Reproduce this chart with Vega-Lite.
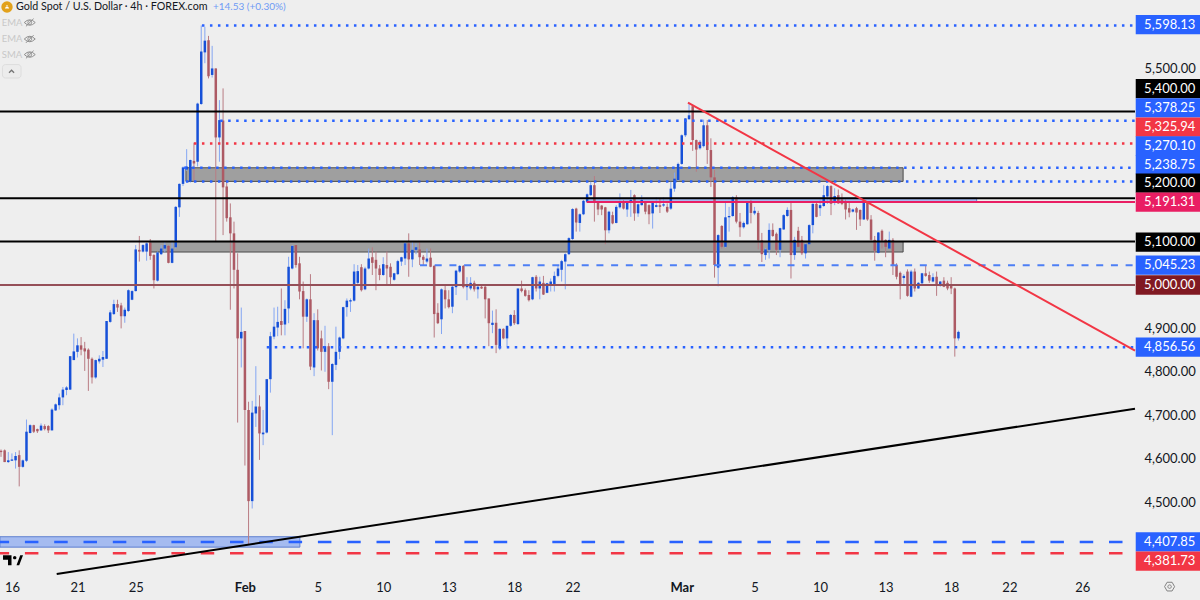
{"$schema":"https://vega.github.io/schema/vega-lite/v6.json","width":1135,"height":574,"autosize":"none","padding":{"left":0,"top":0,"right":65,"bottom":26},"background":"#eeeeee","config":{"font":"Lato","view":{"stroke":null}},"resolve":{"axis":{"x":"independent","y":"independent"}},
"datasets":{"tags":[
{"label":"5,598.13","tone":"blue","mid":5600.2,"top":5622.4,"bot":5578},
{"label":"5,400.00","tone":"black","mid":5452.3,"top":5474.5,"bot":5430.1},
{"label":"5,378.25","tone":"blue","mid":5408.3,"top":5430.5,"bot":5386.1},
{"label":"5,325.94","tone":"red","mid":5364,"top":5386.2,"bot":5341.8},
{"label":"5,270.10","tone":"blue","mid":5320.3,"top":5342.5,"bot":5298.1},
{"label":"5,238.75","tone":"blue","mid":5277.6,"top":5299.8,"bot":5255.4},
{"label":"5,200.00","tone":"black","mid":5235,"top":5257.2,"bot":5212.8},
{"label":"5,191.31","tone":"pink","mid":5191.2,"top":5213.4,"bot":5169},
{"label":"5,100.00","tone":"black","mid":5099,"top":5121.2,"bot":5076.8},
{"label":"5,045.23","tone":"blue","mid":5046,"top":5068.2,"bot":5023.8},
{"label":"5,000.00","tone":"maroon","mid":5000,"top":5022.2,"bot":4977.8},
{"label":"4,856.56","tone":"blue","mid":4857,"top":4879.2,"bot":4834.8},
{"label":"4,407.85","tone":"blue","mid":4408,"top":4430.2,"bot":4385.8},
{"label":"4,381.73","tone":"red","mid":4364,"top":4386.2,"bot":4341.8}
],"candles":[
{"b":0,"o":4618,"h":4621,"l":4604,"c":4615},{"b":1,"o":4619,"h":4621,"l":4592,"c":4592},{"b":2,"o":4592,"h":4615,"l":4590,"c":4596},{"b":3,"o":4595,"h":4612,"l":4595,"c":4598},{"b":4,"o":4596,"h":4615,"l":4577,"c":4606},{"b":5,"o":4608,"h":4619,"l":4536,"c":4581},{"b":6,"o":4581,"h":4598,"l":4579,"c":4596},{"b":7,"o":4595,"h":4690,"l":4592,"c":4662},{"b":8,"o":4659,"h":4679,"l":4658,"c":4677},{"b":9,"o":4677,"h":4678,"l":4659,"c":4662},
{"b":10,"o":4668,"h":4669,"l":4659,"c":4663},{"b":11,"o":4665,"h":4681,"l":4664,"c":4676},{"b":12,"o":4675,"h":4679,"l":4665,"c":4668},{"b":13,"o":4675,"h":4677,"l":4659,"c":4665},{"b":14,"o":4665,"h":4716,"l":4665,"c":4713},{"b":15,"o":4711,"h":4727,"l":4710,"c":4725},{"b":16,"o":4723,"h":4750,"l":4713,"c":4741},{"b":17,"o":4741,"h":4765,"l":4723,"c":4759},{"b":18,"o":4758,"h":4767,"l":4746,"c":4764},{"b":19,"o":4759,"h":4836,"l":4758,"c":4836},
{"b":20,"o":4827,"h":4888,"l":4827,"c":4847},{"b":21,"o":4846,"h":4877,"l":4833,"c":4861},{"b":22,"o":4861,"h":4880,"l":4838,"c":4851},{"b":23,"o":4854,"h":4869,"l":4802,"c":4847},{"b":24,"o":4851,"h":4854,"l":4756,"c":4830},{"b":25,"o":4830,"h":4833,"l":4773,"c":4787},{"b":26,"o":4787,"h":4828,"l":4784,"c":4827},{"b":27,"o":4824,"h":4838,"l":4819,"c":4830},{"b":28,"o":4828,"h":4848,"l":4811,"c":4834},{"b":29,"o":4830,"h":4917,"l":4830,"c":4917},
{"b":30,"o":4915,"h":4942,"l":4913,"c":4937},{"b":31,"o":4933,"h":4966,"l":4931,"c":4956},{"b":32,"o":4956,"h":4966,"l":4938,"c":4948},{"b":33,"o":4953,"h":4959,"l":4900,"c":4928},{"b":34,"o":4928,"h":4948,"l":4913,"c":4943},{"b":35,"o":4940,"h":4990,"l":4938,"c":4988},{"b":36,"o":4966,"h":4988,"l":4965,"c":4986},{"b":37,"o":4986,"h":5092,"l":4985,"c":5082},{"b":38,"o":5081,"h":5113,"l":5054,"c":5077},{"b":39,"o":5077,"h":5094,"l":5075,"c":5092},
{"b":40,"o":5077,"h":5098,"l":5056,"c":5096},{"b":41,"o":5098,"h":5106,"l":5058,"c":5067},{"b":42,"o":5069,"h":5071,"l":4992,"c":5011},{"b":43,"o":5010,"h":5077,"l":5008,"c":5075},{"b":44,"o":5071,"h":5092,"l":5069,"c":5084},{"b":45,"o":5084,"h":5100,"l":5075,"c":5092},{"b":46,"o":5090,"h":5092,"l":5050,"c":5051},{"b":47,"o":5051,"h":5102,"l":5050,"c":5084},{"b":48,"o":5087,"h":5182,"l":5084,"c":5180},{"b":49,"o":5179,"h":5234,"l":5157,"c":5233},
{"b":50,"o":5233,"h":5273,"l":5228,"c":5271},{"b":51,"o":5266,"h":5313,"l":5263,"c":5273},{"b":52,"o":5238,"h":5289,"l":5236,"c":5288},{"b":53,"o":5286,"h":5328,"l":5238,"c":5280},{"b":54,"o":5284,"h":5420,"l":5273,"c":5418},{"b":55,"o":5417,"h":5598,"l":5415,"c":5538},{"b":56,"o":5536,"h":5595,"l":5511,"c":5563},{"b":57,"o":5564,"h":5574,"l":5476,"c":5481},{"b":58,"o":5484,"h":5551,"l":5478,"c":5499},{"b":59,"o":5499,"h":5499,"l":5100,"c":5340},
{"b":60,"o":5340,"h":5426,"l":5284,"c":5380},{"b":61,"o":5379,"h":5453,"l":5115,"c":5225},{"b":62,"o":5227,"h":5242,"l":5146,"c":5154},{"b":63,"o":5156,"h":5188,"l":4943,"c":5119},{"b":64,"o":5119,"h":5146,"l":4992,"c":5035},{"b":65,"o":5035,"h":5073,"l":4683,"c":4877},{"b":66,"o":4877,"h":4948,"l":4810,"c":4892},{"b":67,"o":4894,"h":4894,"l":4584,"c":4712},{"b":68,"o":4712,"h":4731,"l":4403,"c":4502},{"b":69,"o":4502,"h":4733,"l":4485,"c":4706},
{"b":70,"o":4704,"h":4813,"l":4673,"c":4720},{"b":71,"o":4720,"h":4746,"l":4597,"c":4658},{"b":72,"o":4656,"h":4712,"l":4631,"c":4660},{"b":73,"o":4660,"h":4783,"l":4658,"c":4783},{"b":74,"o":4783,"h":4892,"l":4752,"c":4882},{"b":75,"o":4881,"h":4948,"l":4875,"c":4904},{"b":76,"o":4902,"h":4950,"l":4882,"c":4915},{"b":77,"o":4917,"h":4992,"l":4884,"c":4908},{"b":78,"o":4909,"h":4965,"l":4884,"c":4945},{"b":79,"o":4946,"h":5065,"l":4912,"c":5042},
{"b":80,"o":5038,"h":5092,"l":5036,"c":5090},{"b":81,"o":5092,"h":5092,"l":5040,"c":5046},{"b":82,"o":5050,"h":5065,"l":4967,"c":4985},{"b":83,"o":4986,"h":5008,"l":4854,"c":4927},{"b":84,"o":4927,"h":4969,"l":4915,"c":4967},{"b":85,"o":4967,"h":5025,"l":4804,"c":4812},{"b":86,"o":4810,"h":4935,"l":4790,"c":4919},{"b":87,"o":4919,"h":4944,"l":4849,"c":4854},{"b":88,"o":4877,"h":4895,"l":4803,"c":4846},{"b":89,"o":4846,"h":4906,"l":4800,"c":4859},
{"b":90,"o":4859,"h":4866,"l":4760,"c":4777},{"b":91,"o":4777,"h":4820,"l":4654,"c":4818},{"b":92,"o":4816,"h":4904,"l":4804,"c":4846},{"b":93,"o":4846,"h":4881,"l":4829,"c":4879},{"b":94,"o":4877,"h":4950,"l":4875,"c":4949},{"b":95,"o":4949,"h":4969,"l":4927,"c":4964},{"b":96,"o":4962,"h":4969,"l":4938,"c":4965},{"b":97,"o":4964,"h":5048,"l":4962,"c":5031},{"b":98,"o":5005,"h":5046,"l":5000,"c":5032},{"b":99,"o":5041,"h":5048,"l":4985,"c":4988},
{"b":100,"o":4990,"h":5042,"l":4988,"c":5038},{"b":101,"o":5038,"h":5084,"l":5036,"c":5061},{"b":102,"o":5064,"h":5087,"l":5023,"c":5051},{"b":103,"o":5058,"h":5077,"l":4988,"c":5038},{"b":104,"o":5038,"h":5046,"l":5011,"c":5023},{"b":105,"o":5023,"h":5064,"l":5021,"c":5048},{"b":106,"o":5046,"h":5077,"l":5000,"c":5038},{"b":107,"o":5042,"h":5050,"l":5000,"c":5018},{"b":108,"o":5012,"h":5028,"l":5010,"c":5027},{"b":109,"o":5025,"h":5058,"l":5023,"c":5055},
{"b":110,"o":5054,"h":5065,"l":5044,"c":5064},{"b":111,"o":5061,"h":5100,"l":5046,"c":5096},{"b":112,"o":5096,"h":5119,"l":5019,"c":5059},{"b":113,"o":5059,"h":5100,"l":5041,"c":5081},{"b":114,"o":5081,"h":5096,"l":5071,"c":5087},{"b":115,"o":5082,"h":5100,"l":5046,"c":5064},{"b":116,"o":5065,"h":5069,"l":5046,"c":5058},{"b":117,"o":5054,"h":5084,"l":5050,"c":5061},{"b":118,"o":5063,"h":5084,"l":5041,"c":5042},{"b":119,"o":5044,"h":5046,"l":4879,"c":4933},
{"b":120,"o":4936,"h":4958,"l":4910,"c":4912},{"b":121,"o":4921,"h":4992,"l":4887,"c":4990},{"b":122,"o":4988,"h":5002,"l":4946,"c":4967},{"b":123,"o":4967,"h":4988,"l":4946,"c":4949},{"b":124,"o":4950,"h":5000,"l":4935,"c":4996},{"b":125,"o":4995,"h":5035,"l":4977,"c":5033},{"b":126,"o":5031,"h":5046,"l":5028,"c":5044},{"b":127,"o":5044,"h":5046,"l":4992,"c":4995},{"b":128,"o":4995,"h":5018,"l":4965,"c":5000},{"b":129,"o":4992,"h":5018,"l":4988,"c":5005},
{"b":130,"o":5005,"h":5010,"l":4985,"c":4990},{"b":131,"o":4990,"h":4998,"l":4969,"c":4996},{"b":132,"o":4996,"h":4998,"l":4991,"c":4992},{"b":133,"o":4996,"h":4998,"l":4923,"c":4967},{"b":134,"o":4969,"h":4969,"l":4859,"c":4912},{"b":135,"o":4908,"h":4941,"l":4889,"c":4913},{"b":136,"o":4913,"h":4944,"l":4843,"c":4862},{"b":137,"o":4854,"h":4900,"l":4850,"c":4899},{"b":138,"o":4899,"h":4900,"l":4875,"c":4877},{"b":139,"o":4877,"h":4906,"l":4858,"c":4906},
{"b":140,"o":4906,"h":4933,"l":4904,"c":4931},{"b":141,"o":4931,"h":4942,"l":4908,"c":4912},{"b":142,"o":4910,"h":4992,"l":4908,"c":4992},{"b":143,"o":4992,"h":5010,"l":4983,"c":4986},{"b":144,"o":4988,"h":4992,"l":4973,"c":4975},{"b":145,"o":4977,"h":4988,"l":4962,"c":4965},{"b":146,"o":4967,"h":5019,"l":4965,"c":5018},{"b":147,"o":5019,"h":5023,"l":4985,"c":4992},{"b":148,"o":4992,"h":5019,"l":4967,"c":5008},{"b":149,"o":5005,"h":5021,"l":4977,"c":4978},
{"b":150,"o":4982,"h":5005,"l":4981,"c":5004},{"b":151,"o":5000,"h":5015,"l":4985,"c":5008},{"b":152,"o":4998,"h":5031,"l":4985,"c":5021},{"b":153,"o":5021,"h":5044,"l":5018,"c":5038},{"b":154,"o":5035,"h":5058,"l":5008,"c":5055},{"b":155,"o":5054,"h":5073,"l":4990,"c":5071},{"b":156,"o":5071,"h":5110,"l":5069,"c":5108},{"b":157,"o":5106,"h":5177,"l":5104,"c":5175},{"b":158,"o":5176,"h":5178,"l":5123,"c":5144},{"b":159,"o":5143,"h":5165,"l":5123,"c":5163},
{"b":160,"o":5163,"h":5196,"l":5161,"c":5194},{"b":161,"o":5192,"h":5211,"l":5189,"c":5209},{"b":162,"o":5207,"h":5238,"l":5205,"c":5230},{"b":163,"o":5230,"h":5251,"l":5146,"c":5192},{"b":164,"o":5192,"h":5193,"l":5161,"c":5174},{"b":165,"o":5183,"h":5184,"l":5161,"c":5174},{"b":166,"o":5179,"h":5180,"l":5094,"c":5126},{"b":167,"o":5126,"h":5171,"l":5119,"c":5169},{"b":168,"o":5161,"h":5169,"l":5140,"c":5142},{"b":169,"o":5143,"h":5184,"l":5142,"c":5180},
{"b":170,"o":5179,"h":5211,"l":5176,"c":5192},{"b":171,"o":5192,"h":5196,"l":5174,"c":5176},{"b":172,"o":5174,"h":5194,"l":5157,"c":5192},{"b":173,"o":5189,"h":5219,"l":5157,"c":5196},{"b":174,"o":5207,"h":5209,"l":5148,"c":5165},{"b":175,"o":5165,"h":5188,"l":5157,"c":5186},{"b":176,"o":5184,"h":5207,"l":5183,"c":5196},{"b":177,"o":5192,"h":5193,"l":5163,"c":5169},{"b":178,"o":5184,"h":5186,"l":5140,"c":5163},{"b":179,"o":5165,"h":5192,"l":5130,"c":5190},
{"b":180,"o":5180,"h":5202,"l":5179,"c":5184},{"b":181,"o":5184,"h":5199,"l":5166,"c":5180},{"b":182,"o":5183,"h":5202,"l":5180,"c":5186},{"b":183,"o":5180,"h":5188,"l":5166,"c":5169},{"b":184,"o":5176,"h":5238,"l":5173,"c":5222},{"b":185,"o":5222,"h":5259,"l":5215,"c":5245},{"b":186,"o":5242,"h":5282,"l":5240,"c":5279},{"b":187,"o":5279,"h":5347,"l":5277,"c":5345},{"b":188,"o":5345,"h":5384,"l":5341,"c":5384},{"b":189,"o":5382,"h":5420,"l":5381,"c":5391},
{"b":190,"o":5412,"h":5414,"l":5309,"c":5334},{"b":191,"o":5334,"h":5335,"l":5261,"c":5312},{"b":192,"o":5315,"h":5334,"l":5312,"c":5330},{"b":193,"o":5320,"h":5381,"l":5317,"c":5368},{"b":194,"o":5368,"h":5380,"l":5279,"c":5311},{"b":195,"o":5311,"h":5338,"l":5226,"c":5248},{"b":196,"o":5248,"h":5265,"l":5017,"c":5046},{"b":197,"o":5040,"h":5117,"l":4997,"c":5115},{"b":198,"o":5136,"h":5138,"l":5084,"c":5088},{"b":199,"o":5088,"h":5189,"l":5086,"c":5156},
{"b":200,"o":5156,"h":5180,"l":5123,"c":5159},{"b":201,"o":5159,"h":5205,"l":5157,"c":5202},{"b":202,"o":5202,"h":5207,"l":5142,"c":5146},{"b":203,"o":5146,"h":5166,"l":5111,"c":5133},{"b":204,"o":5133,"h":5146,"l":5130,"c":5143},{"b":205,"o":5140,"h":5192,"l":5139,"c":5190},{"b":206,"o":5192,"h":5196,"l":5142,"c":5166},{"b":207,"o":5165,"h":5180,"l":5161,"c":5171},{"b":208,"o":5166,"h":5171,"l":5082,"c":5103},{"b":209,"o":5103,"h":5120,"l":5053,"c":5071},
{"b":210,"o":5069,"h":5085,"l":5058,"c":5082},{"b":211,"o":5081,"h":5142,"l":5061,"c":5127},{"b":212,"o":5127,"h":5142,"l":5111,"c":5113},{"b":213,"o":5118,"h":5121,"l":5069,"c":5081},{"b":214,"o":5081,"h":5132,"l":5064,"c":5131},{"b":215,"o":5128,"h":5163,"l":5127,"c":5161},{"b":216,"o":5159,"h":5179,"l":5157,"c":5173},{"b":217,"o":5173,"h":5192,"l":5015,"c":5069},{"b":218,"o":5069,"h":5111,"l":5058,"c":5104},{"b":219,"o":5125,"h":5134,"l":5087,"c":5088},
{"b":220,"o":5104,"h":5113,"l":5069,"c":5073},{"b":221,"o":5073,"h":5096,"l":5061,"c":5094},{"b":222,"o":5094,"h":5140,"l":5093,"c":5138},{"b":223,"o":5138,"h":5188,"l":5119,"c":5187},{"b":224,"o":5187,"h":5190,"l":5156,"c":5157},{"b":225,"o":5177,"h":5197,"l":5159,"c":5184},{"b":226,"o":5182,"h":5230,"l":5180,"c":5207},{"b":227,"o":5204,"h":5230,"l":5187,"c":5228},{"b":228,"o":5228,"h":5230,"l":5161,"c":5187},{"b":229,"o":5192,"h":5223,"l":5184,"c":5205},
{"b":230,"o":5207,"h":5220,"l":5187,"c":5188},{"b":231,"o":5197,"h":5211,"l":5184,"c":5187},{"b":232,"o":5192,"h":5197,"l":5151,"c":5174},{"b":233,"o":5177,"h":5192,"l":5156,"c":5167},{"b":234,"o":5169,"h":5176,"l":5167,"c":5174},{"b":235,"o":5177,"h":5180,"l":5127,"c":5167},{"b":236,"o":5173,"h":5174,"l":5136,"c":5151},{"b":237,"o":5151,"h":5192,"l":5150,"c":5190},{"b":238,"o":5190,"h":5192,"l":5148,"c":5151},{"b":239,"o":5151,"h":5161,"l":5102,"c":5104},
{"b":240,"o":5104,"h":5113,"l":5056,"c":5079},{"b":241,"o":5074,"h":5122,"l":5073,"c":5121},{"b":242,"o":5125,"h":5128,"l":5084,"c":5102},{"b":243,"o":5104,"h":5105,"l":5064,"c":5088},{"b":244,"o":5084,"h":5123,"l":5083,"c":5104},{"b":245,"o":5104,"h":5108,"l":5023,"c":5044},{"b":246,"o":5046,"h":5050,"l":5013,"c":5019},{"b":247,"o":5028,"h":5031,"l":4967,"c":5000},{"b":248,"o":5016,"h":5025,"l":5000,"c":5021},{"b":249,"o":5031,"h":5036,"l":4973,"c":4975},
{"b":250,"o":4973,"h":5035,"l":4972,"c":5031},{"b":251,"o":5031,"h":5038,"l":4985,"c":4992},{"b":252,"o":4992,"h":5007,"l":4991,"c":5005},{"b":253,"o":5004,"h":5028,"l":4998,"c":5027},{"b":254,"o":5027,"h":5044,"l":5019,"c":5021},{"b":255,"o":5023,"h":5031,"l":5005,"c":5010},{"b":256,"o":5008,"h":5027,"l":5006,"c":5018},{"b":257,"o":5019,"h":5031,"l":4975,"c":4998},{"b":258,"o":4998,"h":5009,"l":4996,"c":5008},{"b":259,"o":5010,"h":5018,"l":4995,"c":4996},
{"b":260,"o":5005,"h":5010,"l":4988,"c":4992},{"b":261,"o":5000,"h":5018,"l":4979,"c":4992},{"b":262,"o":4992,"h":4994,"l":4835,"c":4877},{"b":263,"o":4877,"h":4895,"l":4872,"c":4892}
]},
"layer":[
{"data":{"values":[{"b":50.8,"b2":247.8,"hi":5270.1,"lo":5238.75},{"b":41,"b2":247.8,"hi":5100,"lo":5076}]},"mark":{"type":"rect","fill":"#9f9f9f","stroke":"#4a4a4a","strokeWidth":1},
"encoding":{"x":{"field":"b","type":"quantitative","scale":{"domain":[-0.275,311.5],"nice":false,"zero":false},"axis":{"title":null,"orient":"bottom","values":[3,21,37,67,87,105,123,141,157,187,207,225,243,261,277,297],"labelExpr":"({'3':'16','21':'21','37':'25','67':'Feb','87':'5','105':'10','123':'13','141':'18','157':'22','187':'Mar','207':'5','225':'10','243':'13','261':'18','277':'22','297':'26'})[''+datum.value]","labelFontWeight":{"condition":{"test":"datum.value==67||datum.value==187","value":"bold"},"value":"normal"},"labelFontSize":13,"labelColor":"#131722","ticks":false,"domain":false,"grid":false,"labelPadding":7,"labelFlush":false,"labelOverlap":false}},"x2":{"field":"b2"},
"y":{"field":"hi","type":"quantitative","scale":{"domain":[4334.1,5656.7],"nice":false,"zero":false},"axis":{"title":null,"orient":"right","values":[4500,4600,4700,4800,4900,5500],"format":",.2f","labelFontSize":13,"labelColor":"#131722","ticks":false,"domain":false,"grid":false,"labelPadding":9,"labelAlign":"left","labelOverlap":false}},"y2":{"field":"lo"}}},
{"data":{"values":[{"b":160.9,"b2":268,"hi":5200,"lo":5191.3},{"b":-0.3,"b2":82.1,"hi":4420,"lo":4396}]},"mark":{"type":"rect","fill":"#a5bbf0","stroke":"#5f7fd0","strokeWidth":1},
"encoding":{"x":{"field":"b","type":"quantitative","scale":{"domain":[-0.275,311.5],"nice":false,"zero":false},"axis":null},"x2":{"field":"b2"},"y":{"field":"hi","type":"quantitative","scale":{"domain":[4334.1,5656.7],"nice":false,"zero":false},"axis":null},"y2":{"field":"lo"}}},
{"data":{"name":"candles"},"mark":{"type":"rule","strokeWidth":1},
"encoding":{"x":{"field":"b","type":"quantitative","scale":{"domain":[-0.275,311.5],"nice":false,"zero":false},"axis":null},"y":{"field":"h","type":"quantitative","scale":{"domain":[4334.1,5656.7],"nice":false,"zero":false},"axis":null},"y2":{"field":"l"},"color":{"condition":{"test":"datum.c>=datum.o","value":"#84a6f2"},"value":"#b97c84"}}},
{"data":{"name":"candles"},"mark":{"type":"rule","strokeWidth":2.5},
"encoding":{"x":{"field":"b","type":"quantitative","scale":{"domain":[-0.275,311.5],"nice":false,"zero":false},"axis":null},"y":{"field":"o","type":"quantitative","scale":{"domain":[4334.1,5656.7],"nice":false,"zero":false},"axis":null},"y2":{"field":"c"},"color":{"condition":{"test":"datum.c>=datum.o","value":"#1650d8"},"value":"#ad5a64"}}},
{"data":{"values":[{"b":-0.3,"b2":311.5,"p":5400},{"b":-0.3,"b2":311.5,"p":5200},{"b":-0.3,"b2":311.5,"p":5100}]},"mark":{"type":"rule","strokeWidth":2,"color":"#000000"},
"encoding":{"x":{"field":"b","type":"quantitative","scale":{"domain":[-0.275,311.5],"nice":false,"zero":false},"axis":null},"x2":{"field":"b2"},"y":{"field":"p","type":"quantitative","scale":{"domain":[4334.1,5656.7],"nice":false,"zero":false},"axis":null}}},
{"data":{"values":[{"b":-0.3,"b2":311.5,"p":5000}]},"mark":{"type":"rule","strokeWidth":2,"color":"#954f58"},
"encoding":{"x":{"field":"b","type":"quantitative","scale":{"domain":[-0.275,311.5],"nice":false,"zero":false},"axis":null},"x2":{"field":"b2"},"y":{"field":"p","type":"quantitative","scale":{"domain":[4334.1,5656.7],"nice":false,"zero":false},"axis":null}}},
{"data":{"values":[{"b":160.9,"b2":311.5,"p":5191.31}]},"mark":{"type":"rule","strokeWidth":2,"color":"#e91e63"},
"encoding":{"x":{"field":"b","type":"quantitative","scale":{"domain":[-0.275,311.5],"nice":false,"zero":false},"axis":null},"x2":{"field":"b2"},"y":{"field":"p","type":"quantitative","scale":{"domain":[4334.1,5656.7],"nice":false,"zero":false},"axis":null}}},
{"data":{"values":[{"b":55.2,"b2":311.5,"p":5598.13},{"b":60.2,"b2":311.5,"p":5378.25},{"b":50.3,"b2":311.5,"p":5270.1},{"b":50.8,"b2":311.5,"p":5238.75},{"b":73,"b2":311.5,"p":4856.56}]},"mark":{"type":"rule","strokeWidth":2.5,"color":"#2962ff","strokeDash":[2.5,5.5]},
"encoding":{"x":{"field":"b","type":"quantitative","scale":{"domain":[-0.275,311.5],"nice":false,"zero":false},"axis":null},"x2":{"field":"b2"},"y":{"field":"p","type":"quantitative","scale":{"domain":[4334.1,5656.7],"nice":false,"zero":false},"axis":null}}},
{"data":{"values":[{"b":53,"b2":311.5,"p":5325.94}]},"mark":{"type":"rule","strokeWidth":2.5,"color":"#f23645","strokeDash":[2.5,5.5]},
"encoding":{"x":{"field":"b","type":"quantitative","scale":{"domain":[-0.275,311.5],"nice":false,"zero":false},"axis":null},"x2":{"field":"b2"},"y":{"field":"p","type":"quantitative","scale":{"domain":[4334.1,5656.7],"nice":false,"zero":false},"axis":null}}},
{"data":{"values":[{"b":115.1,"b2":311.5,"p":5045.23}]},"mark":{"type":"rule","strokeWidth":2,"color":"#4d7ff5","strokeDash":[7,7.7]},
"encoding":{"x":{"field":"b","type":"quantitative","scale":{"domain":[-0.275,311.5],"nice":false,"zero":false},"axis":null},"x2":{"field":"b2"},"y":{"field":"p","type":"quantitative","scale":{"domain":[4334.1,5656.7],"nice":false,"zero":false},"axis":null}}},
{"data":{"values":[{"b":-0.3,"b2":311.5,"p":4407.85}]},"mark":{"type":"rule","strokeWidth":2.5,"color":"#2962ff","strokeDash":[13.5,15.8],"strokeDashOffset":4.3},
"encoding":{"x":{"field":"b","type":"quantitative","scale":{"domain":[-0.275,311.5],"nice":false,"zero":false},"axis":null},"x2":{"field":"b2"},"y":{"field":"p","type":"quantitative","scale":{"domain":[4334.1,5656.7],"nice":false,"zero":false},"axis":null}}},
{"data":{"values":[{"b":-0.3,"b2":311.5,"p":4381.73}]},"mark":{"type":"rule","strokeWidth":2.5,"color":"#f23645","strokeDash":[13.5,15.8],"strokeDashOffset":4.3},
"encoding":{"x":{"field":"b","type":"quantitative","scale":{"domain":[-0.275,311.5],"nice":false,"zero":false},"axis":null},"x2":{"field":"b2"},"y":{"field":"p","type":"quantitative","scale":{"domain":[4334.1,5656.7],"nice":false,"zero":false},"axis":null}}},
{"data":{"values":[{"b":188.7,"b2":311.5,"p":5420,"p2":4848.6}]},"mark":{"type":"rule","strokeWidth":2,"color":"#f23645"},
"encoding":{"x":{"field":"b","type":"quantitative","scale":{"domain":[-0.275,311.5],"nice":false,"zero":false},"axis":null},"x2":{"field":"b2"},"y":{"field":"p","type":"quantitative","scale":{"domain":[4334.1,5656.7],"nice":false,"zero":false},"axis":null},"y2":{"field":"p2"}}},
{"data":{"values":[{"b":15.3,"b2":311.5,"p":4334.1,"p2":4715}]},"mark":{"type":"rule","strokeWidth":2,"color":"#000000"},
"encoding":{"x":{"field":"b","type":"quantitative","scale":{"domain":[-0.275,311.5],"nice":false,"zero":false},"axis":null},"x2":{"field":"b2"},"y":{"field":"p","type":"quantitative","scale":{"domain":[4334.1,5656.7],"nice":false,"zero":false},"axis":null},"y2":{"field":"p2"}}},
{"data":{"name":"tags"},"mark":{"type":"rect"},
"encoding":{"x":{"datum":311.7,"type":"quantitative","scale":{"domain":[-0.275,311.5],"nice":false,"zero":false},"axis":null},"x2":{"datum":330},"y":{"field":"top","type":"quantitative","scale":{"domain":[4334.1,5656.7],"nice":false,"zero":false},"axis":null},"y2":{"field":"bot"},"color":{"field":"tone","type":"nominal","scale":{"domain":["blue","black","red","pink","maroon"],"range":["#2962ff","#000000","#f23645","#e91e63","#801922"]},"legend":null}}},
{"data":{"name":"tags"},"mark":{"type":"text","align":"left","baseline":"middle","fontSize":13,"color":"#ffffff"},
"encoding":{"x":{"datum":314,"type":"quantitative","scale":{"domain":[-0.275,311.5],"nice":false,"zero":false},"axis":null},"y":{"field":"mid","type":"quantitative","scale":{"domain":[4334.1,5656.7],"nice":false,"zero":false},"axis":null},"text":{"field":"label"}}},
{"data":{"values":[{"t":"Gold Spot / U.S. Dollar · 4h · FOREX.com","b":4.1,"p":5640.5}]},"mark":{"type":"text","align":"left","baseline":"middle","fontSize":10.7,"color":"#131722"},
"encoding":{"x":{"field":"b","type":"quantitative","scale":{"domain":[-0.275,311.5],"nice":false,"zero":false},"axis":null},"y":{"field":"p","type":"quantitative","scale":{"domain":[4334.1,5656.7],"nice":false,"zero":false},"axis":null},"text":{"field":"t"}}},
{"data":{"values":[{"t":"+14.53 (+0.30%)","b":58.2,"p":5640.5}]},"mark":{"type":"text","align":"left","baseline":"middle","fontSize":10,"color":"#6f9bf5"},
"encoding":{"x":{"field":"b","type":"quantitative","scale":{"domain":[-0.275,311.5],"nice":false,"zero":false},"axis":null},"y":{"field":"p","type":"quantitative","scale":{"domain":[4334.1,5656.7],"nice":false,"zero":false},"axis":null},"text":{"field":"t"}}},
{"data":{"values":[{"t":"EMA","b":0.2,"p":5604.8},{"t":"EMA","b":0.2,"p":5566.8},{"t":"SMA","b":0.2,"p":5531}]},"mark":{"type":"text","align":"left","baseline":"middle","fontSize":9.5,"color":"#c8c8c8"},
"encoding":{"x":{"field":"b","type":"quantitative","scale":{"domain":[-0.275,311.5],"nice":false,"zero":false},"axis":null},"y":{"field":"p","type":"quantitative","scale":{"domain":[4334.1,5656.7],"nice":false,"zero":false},"axis":null},"text":{"field":"t"}}},
{"data":{"values":[{"b":7.9,"p":5604.8},{"b":7.9,"p":5566.8},{"b":7.9,"p":5531}]},"mark":{"type":"point","shape":"M-1,0 Q0,-1 1,0 Q0,1 -1,0 Z M-0.35,0 A0.35,0.35 0 1 1 0.35,0 A0.35,0.35 0 1 1 -0.35,0 Z M-0.7,0.7 L0.7,-0.7","size":120,"filled":false,"stroke":"#666666","strokeWidth":1},
"encoding":{"x":{"field":"b","type":"quantitative","scale":{"domain":[-0.275,311.5],"nice":false,"zero":false},"axis":null},"y":{"field":"p","type":"quantitative","scale":{"domain":[4334.1,5656.7],"nice":false,"zero":false},"axis":null}}},
{"data":{"values":[{"b":1.65,"p":5640.5}]},"mark":{"type":"point","shape":"circle","size":130,"filled":true,"color":"#e2a11b","opacity":1},
"encoding":{"x":{"field":"b","type":"quantitative","scale":{"domain":[-0.275,311.5],"nice":false,"zero":false},"axis":null},"y":{"field":"p","type":"quantitative","scale":{"domain":[4334.1,5656.7],"nice":false,"zero":false},"axis":null}}},
{"data":{"values":[{"b":1.65,"p":5640.5}]},"mark":{"type":"point","shape":"M-0.7,0.45 L-0.35,-0.1 L0.35,-0.1 L0.7,0.45 Z M-0.3,-0.25 L-0.15,-0.55 L0.15,-0.55 L0.3,-0.25 Z","size":40,"filled":true,"color":"#ffffff","opacity":1},
"encoding":{"x":{"field":"b","type":"quantitative","scale":{"domain":[-0.275,311.5],"nice":false,"zero":false},"axis":null},"y":{"field":"p","type":"quantitative","scale":{"domain":[4334.1,5656.7],"nice":false,"zero":false},"axis":null}}},
{"data":{"values":[{"b":0.4,"b2":5.5,"hi":5508,"lo":5477}]},"mark":{"type":"rect","fill":"#ececec","stroke":"#dddddd","cornerRadius":3},
"encoding":{"x":{"field":"b","type":"quantitative","scale":{"domain":[-0.275,311.5],"nice":false,"zero":false},"axis":null},"x2":{"field":"b2"},"y":{"field":"hi","type":"quantitative","scale":{"domain":[4334.1,5656.7],"nice":false,"zero":false},"axis":null},"y2":{"field":"lo"}}},
{"data":{"values":[{"b":2.9,"p":5492}]},"mark":{"type":"point","shape":"M-0.8,0.4 L0,-0.4 L0.8,0.4","size":40,"filled":false,"stroke":"#444444","strokeWidth":1.3},
"encoding":{"x":{"field":"b","type":"quantitative","scale":{"domain":[-0.275,311.5],"nice":false,"zero":false},"axis":null},"y":{"field":"p","type":"quantitative","scale":{"domain":[4334.1,5656.7],"nice":false,"zero":false},"axis":null}}},
{"data":{"values":[{"b":3.3,"p":4366}]},"mark":{"type":"point","shape":"M-1,-0.5 L-0.15,-0.5 L-0.15,0.5 L-0.5,0.5 L-0.5,-0.05 L-1,-0.05 Z M0.35,0.5 L0.72,-0.5 L1,-0.5 L0.62,0.5 Z M0,-0.25 A0.17,0.17 0 1 1 0.34,-0.25 A0.17,0.17 0 1 1 0,-0.25 Z","size":400,"filled":true,"color":"#000000","opacity":1},
"encoding":{"x":{"field":"b","type":"quantitative","scale":{"domain":[-0.275,311.5],"nice":false,"zero":false},"axis":null},"y":{"field":"p","type":"quantitative","scale":{"domain":[4334.1,5656.7],"nice":false,"zero":false},"axis":null}}},
{"data":{"values":[{"b":321,"p":4305}]},"mark":{"type":"point","shape":"M-0.5,-0.87 L0.5,-0.87 L1,0 L0.5,0.87 L-0.5,0.87 L-1,0 Z M-0.35,0 A0.35,0.35 0 1 1 0.35,0 A0.35,0.35 0 1 1 -0.35,0 Z","size":100,"filled":false,"stroke":"#555555","strokeWidth":1},
"encoding":{"x":{"field":"b","type":"quantitative","scale":{"domain":[-0.275,311.5],"nice":false,"zero":false},"axis":null},"y":{"field":"p","type":"quantitative","scale":{"domain":[4334.1,5656.7],"nice":false,"zero":false},"axis":null}}}
]}
